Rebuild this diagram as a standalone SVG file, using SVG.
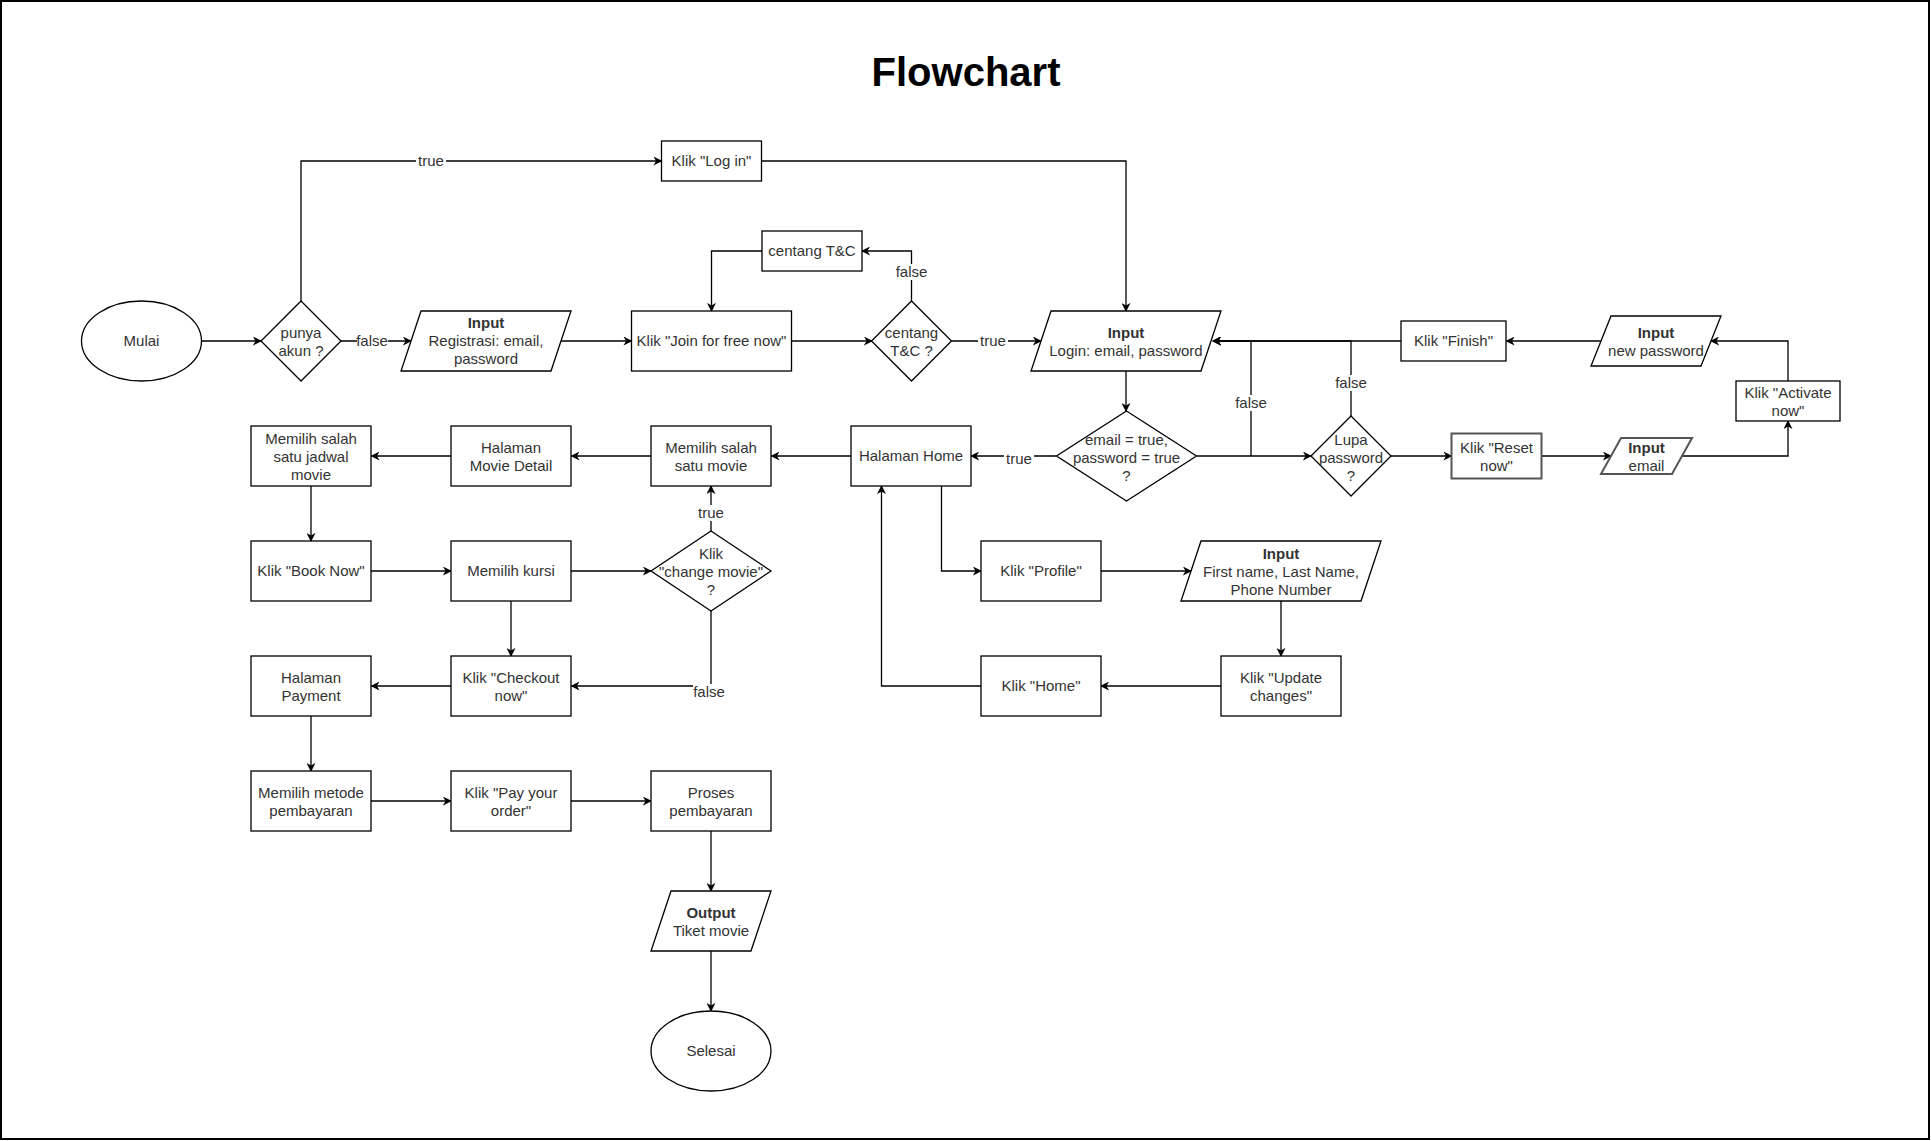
<svg xmlns="http://www.w3.org/2000/svg" width="1931" height="1141" viewBox="0 0 1931 1141">
<defs>
<marker id="arr" viewBox="0 0 10 10" refX="9" refY="5" markerWidth="9" markerHeight="9" markerUnits="userSpaceOnUse" orient="auto">
<path d="M0,0 L10,5 L0,10 L3,5 z" fill="#000"/>
</marker>
<style>
.n{fill:#fff;stroke:#000;stroke-width:1.3}
.g{fill:#fff;stroke:#555;stroke-width:2}
.t{font-family:"Liberation Sans",Arial,sans-serif;font-size:15px;fill:#333;text-anchor:middle}
.b{font-weight:bold}
.c{fill:none;stroke:#000;stroke-width:1.3}
.a{marker-end:url(#arr)}
.lb{fill:#fff}
</style>
</defs>
<rect width="1931" height="1141" fill="#fff"/>
<rect x="1" y="1" width="1928" height="1138" fill="none" stroke="#000" stroke-width="2"/>
<g transform="translate(0,1)">
<text x="966" y="85" font-family="'Liberation Sans',Arial,sans-serif" font-size="40" font-weight="bold" text-anchor="middle" fill="#000">Flowchart</text>

<g id="connectors">
<path class="c a" d="M201.5,340 H261"/>
<path class="c a" d="M301,300 V160 H661.5"/>
<path class="c a" d="M341,340 H411"/>
<path class="c a" d="M561,340 H631.5"/>
<path class="c a" d="M791.5,340 H872"/>
<path class="c a" d="M911.5,300 V250 H862"/>
<path class="c a" d="M762,250 H711.5 V310"/>
<path class="c a" d="M951.5,340 H1041"/>
<path class="c a" d="M762,160 H1126 V310"/>
<path class="c a" d="M1126,370 V410"/>
<path class="c a" d="M1056,455 H971"/>
<path class="c a" d="M1197,455 H1311"/>
<path class="c a" d="M1251,455 V340 H1213"/>
<path class="c a" d="M1351,415 V340 H1213"/>
<path class="c a" d="M1401,340 H1213"/>
<path class="c a" d="M1391,455 H1451.5"/>
<path class="c a" d="M1541.5,455 H1611"/>
<path class="c a" d="M1682,455 H1788 V420"/>
<path class="c a" d="M1788,380 V340 H1711"/>
<path class="c a" d="M1601,340 H1506.5"/>
<path class="c a" d="M851,455 H771.5"/>
<path class="c a" d="M651,455 H571.5"/>
<path class="c a" d="M451,455 H371.5"/>
<path class="c a" d="M311,485 V540"/>
<path class="c a" d="M371,570 H451"/>
<path class="c a" d="M571,570 H651"/>
<path class="c a" d="M711,530 V485"/>
<path class="c a" d="M711,610 V685 H571.5"/>
<path class="c a" d="M511,600 V655"/>
<path class="c a" d="M451,685 H371.5"/>
<path class="c a" d="M311,715 V770"/>
<path class="c a" d="M371,800 H451"/>
<path class="c a" d="M571,800 H651"/>
<path class="c a" d="M711,830 V890"/>
<path class="c a" d="M711,950 V1010"/>
<path class="c a" d="M941.5,485 V570 H981"/>
<path class="c a" d="M1101,570 H1191"/>
<path class="c a" d="M1281,600 V655"/>
<path class="c a" d="M1221,685 H1101"/>
<path class="c a" d="M981,685 H881.5 V485"/>
<g id="edge-labels">
<rect class="lb" x="416" y="152" width="30" height="16"/><text class="t" x="431" y="165">true</text>
<rect class="lb" x="357" y="332" width="31" height="16"/><text class="t" x="372" y="345">false</text>
<rect class="lb" x="896" y="263" width="31" height="16"/><text class="t" x="911.5" y="276">false</text>
<rect class="lb" x="978" y="332" width="30" height="16"/><text class="t" x="993" y="345">true</text>
<rect class="lb" x="1004" y="450" width="30" height="16"/><text class="t" x="1019" y="463">true</text>
<rect class="lb" x="1235" y="394" width="32" height="16"/><text class="t" x="1251" y="407">false</text>
<rect class="lb" x="1335" y="374" width="32" height="16"/><text class="t" x="1351" y="387">false</text>
<rect class="lb" x="696" y="504" width="30" height="16"/><text class="t" x="711" y="517">true</text>
<rect class="lb" x="693" y="683" width="32" height="16"/><text class="t" x="709" y="696">false</text>
</g>
</g>

<g id="mulai"><ellipse class="n" cx="141.5" cy="340" rx="60" ry="40"/><text class="t" x="141.5" y="345">Mulai</text></g>
<g id="punya-akun"><polygon class="n" points="301,300 341,340 301,380 261,340"/><text class="t" x="301" y="337">punya</text><text class="t" x="301" y="355">akun ?</text></g>
<g id="input-registrasi"><polygon class="n" points="421,310 571,310 551,370 401,370"/><text class="t b" x="486" y="327">Input</text><text class="t" x="486" y="345">Registrasi: email,</text><text class="t" x="486" y="363">password</text></g>
<g id="klik-join"><rect class="n" x="631.5" y="310" width="160" height="60"/><text class="t" x="711.5" y="345">Klik "Join for free now"</text></g>
<g id="klik-login"><rect class="n" x="661.5" y="140" width="100" height="40"/><text class="t" x="711.5" y="165">Klik "Log in"</text></g>
<g id="centang-tc"><rect class="n" x="762" y="230" width="100" height="40"/><text class="t" x="812" y="255">centang T&amp;C</text></g>
<g id="centang-tc-q"><polygon class="n" points="911.5,300 951.5,340 911.5,380 871.5,340"/><text class="t" x="911.5" y="337">centang</text><text class="t" x="911.5" y="355">T&amp;C ?</text></g>
<g id="input-login"><polygon class="n" points="1051,310 1221,310 1201,370 1031,370"/><text class="t b" x="1126" y="337">Input</text><text class="t" x="1126" y="355">Login: email, password</text></g>
<g id="cek-login"><polygon class="n" points="1126.5,410 1196.5,455 1126.5,500 1056.5,455"/><text class="t" x="1126.5" y="444">email = true,</text><text class="t" x="1126.5" y="462">password = true</text><text class="t" x="1126.5" y="480">?</text></g>
<g id="lupa-password"><polygon class="n" points="1351,415 1391,455 1351,495 1311,455"/><text class="t" x="1351" y="444">Lupa</text><text class="t" x="1351" y="462">password</text><text class="t" x="1351" y="480">?</text></g>
<g id="klik-reset"><rect class="g" x="1451.5" y="432.5" width="90" height="45"/><text class="t" x="1496.5" y="452">Klik "Reset</text><text class="t" x="1496.5" y="470">now"</text></g>
<g id="input-email"><polygon class="g" points="1621,437 1692,437 1672,473 1601,473"/><text class="t b" x="1646.5" y="452">Input</text><text class="t" x="1646.5" y="470">email</text></g>
<g id="klik-activate"><rect class="n" x="1736" y="380" width="104" height="40"/><text class="t" x="1788" y="397">Klik "Activate</text><text class="t" x="1788" y="415">now"</text></g>
<g id="input-new-password"><polygon class="n" points="1611,315 1721,315 1701,365 1591,365"/><text class="t b" x="1656" y="337">Input</text><text class="t" x="1656" y="355">new password</text></g>
<g id="klik-finish"><rect class="n" x="1401" y="320" width="105" height="40"/><text class="t" x="1453.5" y="345">Klik "Finish"</text></g>
<g id="halaman-home"><rect class="n" x="851" y="425" width="120" height="60"/><text class="t" x="911" y="460">Halaman Home</text></g>
<g id="pilih-movie"><rect class="n" x="651" y="425" width="120" height="60"/><text class="t" x="711" y="452">Memilih salah</text><text class="t" x="711" y="470">satu movie</text></g>
<g id="movie-detail"><rect class="n" x="451" y="425" width="120" height="60"/><text class="t" x="511" y="452">Halaman</text><text class="t" x="511" y="470">Movie Detail</text></g>
<g id="pilih-jadwal"><rect class="n" x="251" y="425" width="120" height="60"/><text class="t" x="311" y="443">Memilih salah</text><text class="t" x="311" y="461">satu jadwal</text><text class="t" x="311" y="479">movie</text></g>
<g id="klik-book"><rect class="n" x="251" y="540" width="120" height="60"/><text class="t" x="311" y="575">Klik "Book Now"</text></g>
<g id="pilih-kursi"><rect class="n" x="451" y="540" width="120" height="60"/><text class="t" x="511" y="575">Memilih kursi</text></g>
<g id="change-movie"><polygon class="n" points="711,530 771,570 711,610 651,570"/><text class="t" x="711" y="558">Klik</text><text class="t" x="711" y="576">"change movie"</text><text class="t" x="711" y="594">?</text></g>
<g id="halaman-payment"><rect class="n" x="251" y="655" width="120" height="60"/><text class="t" x="311" y="682">Halaman</text><text class="t" x="311" y="700">Payment</text></g>
<g id="klik-checkout"><rect class="n" x="451" y="655" width="120" height="60"/><text class="t" x="511" y="682">Klik "Checkout</text><text class="t" x="511" y="700">now"</text></g>
<g id="metode"><rect class="n" x="251" y="770" width="120" height="60"/><text class="t" x="311" y="797">Memilih metode</text><text class="t" x="311" y="815">pembayaran</text></g>
<g id="klik-pay"><rect class="n" x="451" y="770" width="120" height="60"/><text class="t" x="511" y="797">Klik "Pay your</text><text class="t" x="511" y="815">order"</text></g>
<g id="proses"><rect class="n" x="651" y="770" width="120" height="60"/><text class="t" x="711" y="797">Proses</text><text class="t" x="711" y="815">pembayaran</text></g>
<g id="output"><polygon class="n" points="671,890 771,890 751,950 651,950"/><text class="t b" x="711" y="917">Output</text><text class="t" x="711" y="935">Tiket movie</text></g>
<g id="selesai"><ellipse class="n" cx="711" cy="1050" rx="60" ry="40"/><text class="t" x="711" y="1055">Selesai</text></g>
<g id="klik-profile"><rect class="n" x="981" y="540" width="120" height="60"/><text class="t" x="1041" y="575">Klik "Profile"</text></g>
<g id="input-profile"><polygon class="n" points="1201,540 1381,540 1361,600 1181,600"/><text class="t b" x="1281" y="558">Input</text><text class="t" x="1281" y="576">First name, Last Name,</text><text class="t" x="1281" y="594">Phone Number</text></g>
<g id="klik-update"><rect class="n" x="1221" y="655" width="120" height="60"/><text class="t" x="1281" y="682">Klik "Update</text><text class="t" x="1281" y="700">changes"</text></g>
<g id="klik-home"><rect class="n" x="981" y="655" width="120" height="60"/><text class="t" x="1041" y="690">Klik "Home"</text></g>
</g>
</svg>
